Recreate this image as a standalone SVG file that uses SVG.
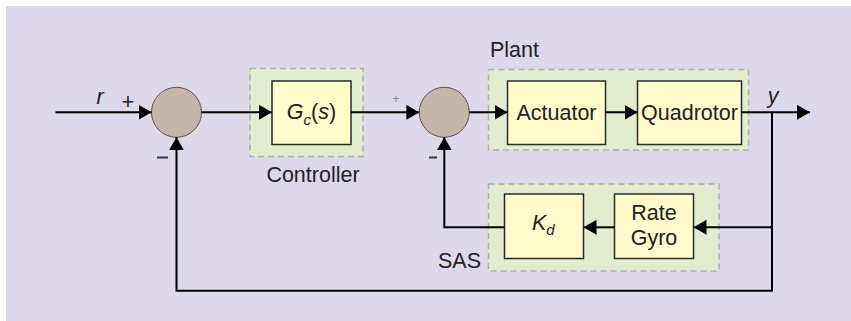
<svg xmlns="http://www.w3.org/2000/svg" width="851" height="321" viewBox="0 0 851 321">
  <defs>
    <marker id="arrow" viewBox="0 0 13 15" refX="13" refY="7.5" markerWidth="13" markerHeight="15" markerUnits="userSpaceOnUse" orient="auto">
      <path d="M0,0 L13,7.5 L0,15 Z" fill="#000"/>
    </marker>
  </defs>
  <style>
    .group { fill: #E2ECCF; stroke: #AFAFAF; stroke-width: 1.5; stroke-dasharray: 6 4; }
    .block { fill: #FFFBCD; stroke: #2A2A2A; stroke-width: 1.5; }
    .sum { fill: #C6B6AA; stroke: #555; stroke-width: 1; }
    .wire { fill: none; stroke: #000; stroke-width: 2; }
    .label { font-family: "Liberation Sans", Arial, sans-serif; font-size: 21.5px; fill: #222; }
    .math { font-family: "Liberation Sans", Arial, sans-serif; font-size: 21.5px; font-style: italic; fill: #222; }
    .sign { font-family: "Liberation Sans", Arial, sans-serif; font-size: 22px; fill: #222; }
    .sign-small { font-family: "Liberation Sans", Arial, sans-serif; font-size: 12px; fill: #888; }
    .minus { stroke: #333; stroke-width: 2; }
  </style>

  <!-- backdrop -->
  <rect x="6" y="6" width="845" height="315" fill="#DDD9EB"/>

  <!-- controller stage -->
  <g id="controller">
    <rect class="group" x="250" y="68.5" width="113" height="88"/>
    <rect class="block" x="272" y="81" width="79" height="63.5"/>
    <text class="math" x="311.5" y="119" text-anchor="middle">G<tspan font-size="15" dy="6">c</tspan><tspan dy="-6" font-style="normal">(</tspan>s<tspan font-style="normal">)</tspan></text>
    <text class="label" x="313" y="181.5" text-anchor="middle">Controller</text>
  </g>

  <!-- plant: actuator followed by the quadrotor -->
  <g id="plant">
    <rect class="group" x="488.5" y="69.5" width="260" height="80.5"/>
    <text class="label" x="490" y="56.5">Plant</text>
  </g>
  <g id="actuator">
    <rect class="block" x="507.5" y="81" width="98" height="63.5"/>
    <text class="label" x="556.5" y="119.5" text-anchor="middle">Actuator</text>
  </g>
  <g id="quadrotor">
    <rect class="block" x="637.5" y="81" width="104" height="63.5"/>
    <text class="label" x="689.5" y="119.5" text-anchor="middle">Quadrotor</text>
  </g>

  <!-- stability augmentation loop -->
  <g id="sas">
    <rect class="group" x="488.5" y="184" width="230.5" height="87"/>
    <text class="label" x="438" y="267.5">SAS</text>
  </g>
  <g id="kd">
    <rect class="block" x="504.5" y="194" width="79" height="64.5"/>
    <text class="math" x="532" y="230">K<tspan font-size="15" dy="5">d</tspan></text>
  </g>
  <g id="rate-gyro">
    <rect class="block" x="614.5" y="194" width="79" height="64.5"/>
    <text class="label" x="654" y="219.5" text-anchor="middle">Rate</text>
    <text class="label" x="654" y="245" text-anchor="middle">Gyro</text>
  </g>

  <!-- summing junctions -->
  <g id="sum-outer">
    <circle class="sum" cx="176.5" cy="112.3" r="25"/>
    <text class="sign" x="128" y="108.5" text-anchor="middle">+</text>
    <line class="minus" x1="157" y1="157.5" x2="168" y2="157.5"/>
  </g>
  <g id="sum-inner">
    <circle class="sum" cx="444.3" cy="112.3" r="25"/>
    <text class="sign-small" x="396" y="103" text-anchor="middle">+</text>
    <line class="minus" x1="429" y1="157.5" x2="437" y2="157.5"/>
  </g>

  <!-- signal labels -->
  <text class="math" x="100" y="104" text-anchor="middle">r</text>
  <text class="math" x="773" y="103" text-anchor="middle">y</text>

  <!-- connectors -->
  <g id="connectors">
    <line class="wire" x1="55.5" y1="112.3" x2="151.5" y2="112.3" marker-end="url(#arrow)"/>
    <line class="wire" x1="201.5" y1="112.3" x2="272" y2="112.3" marker-end="url(#arrow)"/>
    <line class="wire" x1="351" y1="112.3" x2="419.3" y2="112.3" marker-end="url(#arrow)"/>
    <line class="wire" x1="469.3" y1="112.3" x2="507.5" y2="112.3" marker-end="url(#arrow)"/>
    <line class="wire" x1="605.5" y1="112.3" x2="637.5" y2="112.3" marker-end="url(#arrow)"/>
    <line class="wire" x1="741.5" y1="112.3" x2="810" y2="112.3" marker-end="url(#arrow)"/>
    <!-- rate feedback through the SAS -->
    <polyline class="wire" points="772,112.3 772,227.3 693.5,227.3" marker-end="url(#arrow)"/>
    <line class="wire" x1="614.5" y1="227.3" x2="583.5" y2="227.3" marker-end="url(#arrow)"/>
    <polyline class="wire" points="504.5,227.3 444.3,227.3 444.3,137.3" marker-end="url(#arrow)"/>
    <!-- outer unity feedback -->
    <polyline class="wire" points="772,227.3 772,290.7 176.5,290.7 176.5,137.3" marker-end="url(#arrow)"/>
  </g>
</svg>
